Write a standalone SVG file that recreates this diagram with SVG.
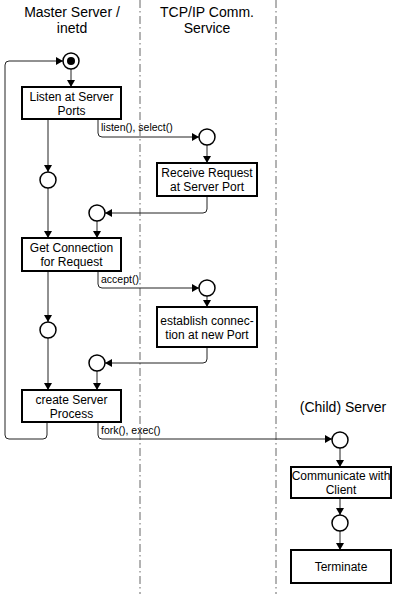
<svg xmlns="http://www.w3.org/2000/svg" width="400" height="594" viewBox="0 0 400 594">
<defs>
<marker id="ah" markerWidth="8" markerHeight="8" refX="7" refY="4" orient="auto" markerUnits="userSpaceOnUse">
<path d="M0,0 L7,4 L0,8 z" fill="#000"/>
</marker>
<style>
.lane{stroke:#666;stroke-width:1;stroke-dasharray:8 3 1.5 3.5;fill:none}
.title{font-family:"Liberation Sans",Arial,sans-serif;font-size:14px;fill:#000;text-anchor:middle}
.box{fill:#fff;stroke:#000;stroke-width:2}
.bt{font-family:"Liberation Sans",Arial,sans-serif;font-size:12px;fill:#000;text-anchor:middle}
.st{fill:#fff;stroke:#000;stroke-width:1.5}
.ca{fill:none;stroke:#222;stroke-width:1;marker-end:url(#ah)}
.lbl{font-family:"Liberation Sans",Arial,sans-serif;font-size:10.5px;fill:#000}
</style>
</defs>
<rect width="400" height="594" fill="#fff"/>
<g id="lanes">
<line class="lane" x1="140" y1="0" x2="140" y2="594"/>
<line class="lane" x1="276" y1="0" x2="276" y2="594"/>
</g>
<g id="titles">
<text class="title" x="72" y="17">Master Server /</text>
<text class="title" x="72" y="33">inetd</text>
<text class="title" x="207" y="17">TCP/IP Comm.</text>
<text class="title" x="207" y="33">Service</text>
<text class="title" x="343" y="412">(Child) Server</text>
</g>
<g id="connectors">
<path class="ca" d="M47,422 V435 Q47,439 43,439 H9 Q5,439 5,435 V65 Q5,61 9,61 H63"/>
<path class="ca" d="M71,69 V87"/>
<path class="ca" d="M48,119 V172"/>
<path class="ca" d="M98,119 V133 Q98,137 102,137 H199"/>
<path class="ca" d="M207,145 V163"/>
<path class="ca" d="M207,196 V209 Q207,213 203,213 H105"/>
<path class="ca" d="M48,188 V238"/>
<path class="ca" d="M97,221 V238"/>
<path class="ca" d="M48,271 V322"/>
<path class="ca" d="M98,271 V284 Q98,288 102,288 H199"/>
<path class="ca" d="M207,296 V307"/>
<path class="ca" d="M207,347 V359 Q207,363 203,363 H105"/>
<path class="ca" d="M48,338 V390"/>
<path class="ca" d="M97,371 V390"/>
<path class="ca" d="M98,422 V435 Q98,439 102,439 H332"/>
<path class="ca" d="M340,448 V467"/>
<path class="ca" d="M340,498 V515"/>
<path class="ca" d="M340,531 V550"/>
<text class="lbl" x="101" y="131">listen(), select()</text>
<text class="lbl" x="101" y="283">accept()</text>
<text class="lbl" x="101" y="434">fork(), exec()</text>
</g>
<g id="start">
<circle class="st" cx="71" cy="61" r="8"/>
<circle cx="71" cy="61" r="4" fill="#000"/>
</g>
<g id="listen">
<rect class="box" x="22" y="87" width="99" height="32"/>
<text class="bt" x="71.5" y="101">Listen at Server</text>
<text class="bt" x="71.5" y="115">Ports</text>
</g>
<g id="s1"><circle class="st" cx="207" cy="137" r="8"/></g>
<g id="receive">
<rect class="box" x="157" y="163" width="100" height="33"/>
<text class="bt" x="207" y="177">Receive Request</text>
<text class="bt" x="207" y="191">at Server Port</text>
</g>
<g id="s2"><circle class="st" cx="48" cy="180" r="8"/></g>
<g id="s3"><circle class="st" cx="97" cy="213" r="8"/></g>
<g id="getconn">
<rect class="box" x="22" y="238" width="99" height="33"/>
<text class="bt" x="71.5" y="252">Get Connection</text>
<text class="bt" x="71.5" y="266">for Request</text>
</g>
<g id="s4"><circle class="st" cx="207" cy="288" r="8"/></g>
<g id="establish">
<rect class="box" x="157" y="307" width="100" height="40"/>
<text class="bt" x="207" y="325">establish connec-</text>
<text class="bt" x="207" y="339">tion at new Port</text>
</g>
<g id="s5"><circle class="st" cx="48" cy="330" r="8"/></g>
<g id="s6"><circle class="st" cx="97" cy="363" r="8"/></g>
<g id="create">
<rect class="box" x="22" y="390" width="99" height="32"/>
<text class="bt" x="71.5" y="404">create Server</text>
<text class="bt" x="71.5" y="418">Process</text>
</g>
<g id="s7"><circle class="st" cx="340" cy="440" r="8"/></g>
<g id="communicate">
<rect class="box" x="291" y="467" width="100" height="31"/>
<text class="bt" x="341" y="480">Communicate with</text>
<text class="bt" x="341" y="494">Client</text>
</g>
<g id="s8"><circle class="st" cx="340" cy="523" r="8"/></g>
<g id="terminate">
<rect class="box" x="291" y="550" width="100" height="33"/>
<text class="bt" x="341" y="571">Terminate</text>
</g>
</svg>
